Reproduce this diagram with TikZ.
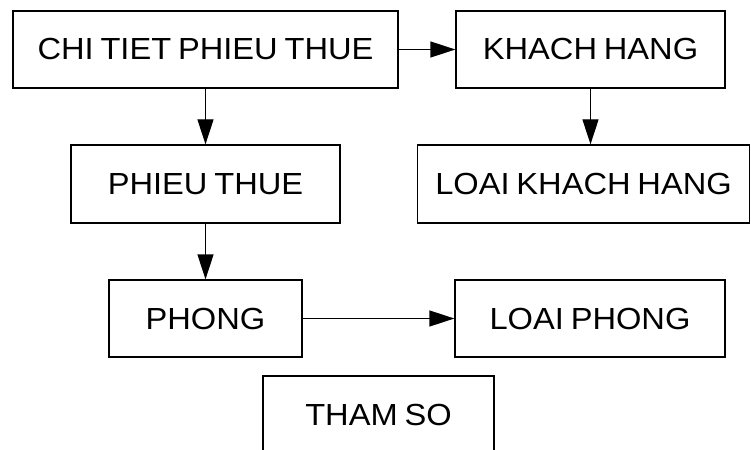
\documentclass[tikz,border=0pt]{standalone}
\usepackage{fontspec}
\setmainfont[FakeStretch=1.07,WordSpace=0.75]{Liberation Sans}
\usepackage{tikz}
\usetikzlibrary{arrows.meta}
\usetikzlibrary{positioning}
\tikzstyle{entity} = [draw, rectangle, line width=1.3pt, inner sep=0pt,
	font=\fontsize{30.5}{36}\selectfont]
\tikzstyle{line} = [draw, line width=1.3pt, -{Triangle[length=25pt,width=16pt]}]

\begin{document}
\begin{tikzpicture}[x=1pt, y=-1pt]
	\useasboundingbox (0,0) rectangle (751,449);
	% tables
	\node[entity, minimum width=385pt, minimum height=77pt] (chitiet) at (205.5,49.5) {CHI TIET PHIEU THUE};
	\node[entity, minimum width=269pt, minimum height=77pt] (khachhang) at (590.5,49.5) {KHACH HANG};
	\node[entity, minimum width=269pt, minimum height=78pt] (phieuthue) at (205.5,184) {PHIEU THUE};
	\node[entity, minimum width=332pt, minimum height=78pt] (loaikhach) at (583.5,184) {LOAI KHACH HANG};
	\node[entity, minimum width=193pt, minimum height=77pt] (phong) at (205.5,318.5) {PHONG};
	\node[entity, minimum width=270pt, minimum height=77pt] (loaiphong) at (590,318.5) {LOAI PHONG};
	\node[entity, minimum width=231pt, minimum height=77pt] (thamso) at (378.5,414.5) {THAM SO};
	% references
	\path[line] (chitiet) -- (khachhang);
	\path[line] (chitiet) -- (phieuthue);
	\path[line] (khachhang.south) -- (khachhang.south |- loaikhach.north);
	\path[line] (phieuthue) -- (phong);
	\path[line] (phong) -- (loaiphong);
\end{tikzpicture}
\end{document}
